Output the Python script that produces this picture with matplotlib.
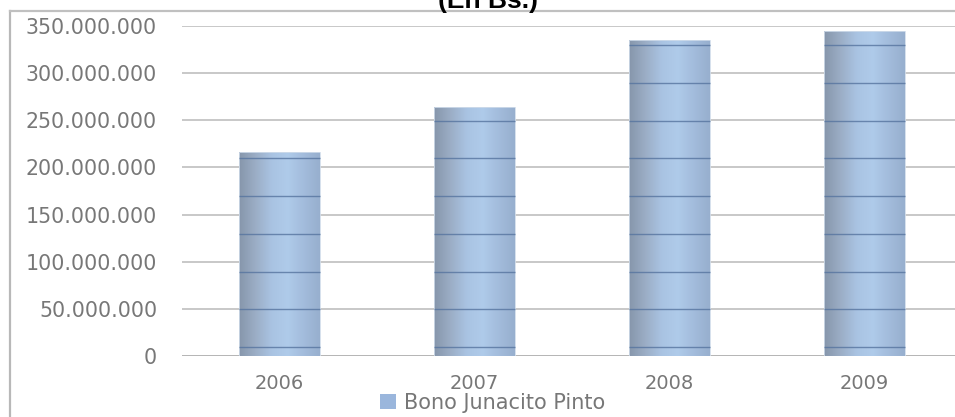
import matplotlib
matplotlib.use("Agg")
import matplotlib.pyplot as plt
import numpy as np
from matplotlib.colors import LinearSegmentedColormap
from matplotlib.lines import Line2D
from matplotlib.patches import Patch

years = ["2006", "2007", "2008", "2009"]
montos = [216_000_000, 264_000_000, 335_000_000, 345_000_000]
yticks = [0, 50_000_000, 100_000_000, 150_000_000, 200_000_000,
          250_000_000, 300_000_000, 350_000_000]
serie = "Bono Junacito Pinto"
titulo = "(En Bs.)"


def fmt_miles(v):
    return f"{v:,.0f}".replace(",", ".")


W, H = 955, 417
fig = plt.figure(figsize=(W / 100, H / 100), dpi=100)
fig.patch.set_facecolor("white")

# plot area (extends past right edge, the source is cropped)
x0, x1 = 182, 962
y0, y1 = 356, 26
ax = fig.add_axes([x0 / W, 1 - y0 / H, (x1 - x0) / W, (y0 - y1) / H])
ax.set_facecolor("none")

for s in ax.spines.values():
    s.set_visible(False)

for t in yticks:
    ax.axhline(t, color="#b4b4b4" if t == 0 else "#c8c8c8", lw=1.4, zorder=1)

bar_w = 0.415
grad = LinearSegmentedColormap.from_list(
    "barra", ["#8696ab", "#9badc5", "#a9c3e2", "#afcbea", "#a3bcdc", "#97afce"])
gx = np.linspace(0, 1, 256).reshape(1, -1)

bars = ax.bar(range(len(years)), montos, width=bar_w, color="none",
              edgecolor="#d0dcea", lw=0.6, zorder=3)
for b, v in zip(bars, montos):
    left = b.get_x()
    im = ax.imshow(gx, cmap=grad, aspect="auto", zorder=2,
                   extent=[left, left + bar_w, 0, v], interpolation="bilinear")
    im.set_clip_path(b)
    # texture stripes of the original picture fill
    stripes = np.arange(9_500_000, v - 3_000_000, 40_000_000)
    ax.hlines(stripes, left, left + bar_w, color="#56749f", lw=1.0,
              alpha=0.8, zorder=3)

ax.set_xlim(-0.5, len(years) - 0.5)
ax.set_ylim(0, 350_000_000)

ax.set_yticks(yticks)
ax.set_yticklabels([fmt_miles(t) for t in yticks])
ax.set_xticks(range(len(years)))
ax.set_xticklabels(years)
ax.tick_params(axis="y", length=0, pad=18, labelsize=14.8, labelcolor="#777777")
ax.tick_params(axis="x", length=0, pad=13, labelsize=14, labelcolor="#777777")

# chart frame (left and top border)
fig.add_artist(Line2D([10 / W, 10 / W], [0, 1 - 11 / H], color="#b8b8b8",
                      lw=1.6, transform=fig.transFigure))
fig.add_artist(Line2D([10 / W, 1], [1 - 11 / H, 1 - 11 / H], color="#c0c0c0",
                      lw=1.6, transform=fig.transFigure))

fig.text(488 / W, 1 - 8 / H, titulo, ha="center", va="baseline",
         fontsize=19, fontweight="bold", family="Liberation Sans", color="black")

handles = [Patch(facecolor="#9ab6dc", edgecolor="none")]
fig.legend(handles, [serie], loc="center", bbox_to_anchor=(493 / W, 1 - 403 / H),
           frameon=False, fontsize=15, handlelength=0.75, handleheight=0.7,
           handletextpad=0.4, labelcolor="#777777", borderpad=0)

fig.savefig("out.png", dpi=100)
